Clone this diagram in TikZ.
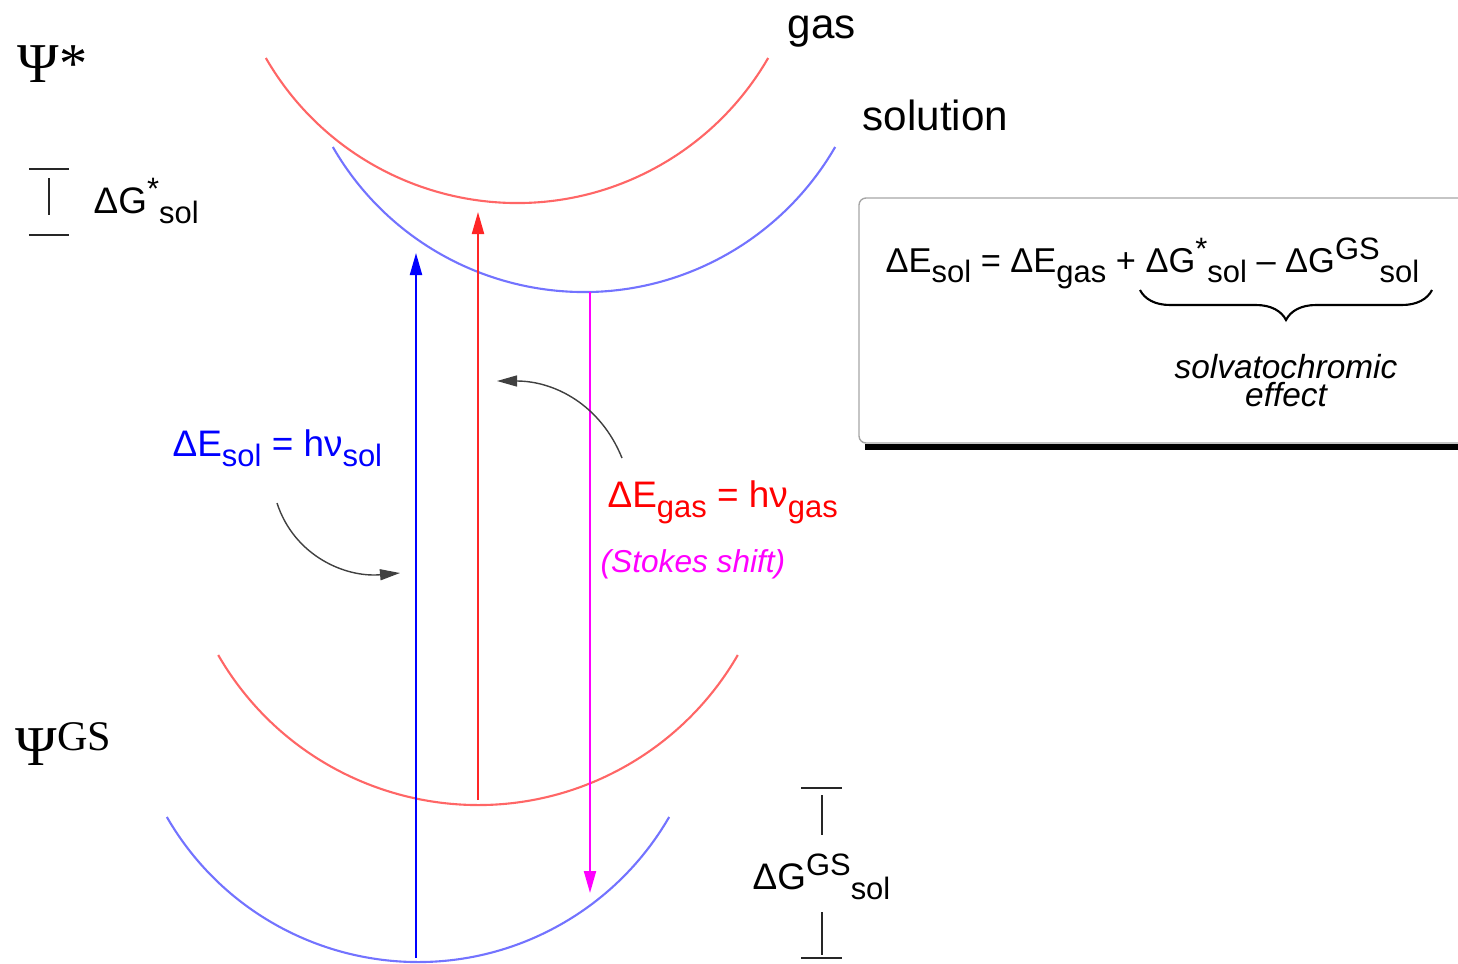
\documentclass[tikz,border=0pt]{standalone}
\usepackage{fontspec}
\setmainfont{Liberation Sans}
\newfontfamily\psifont{Liberation Serif}
\usetikzlibrary{arrows.meta,decorations.pathreplacing}
\definecolor{pinkline}{RGB}{255,0,255}
\newcommand{\sbt}[1]{\raisebox{-0.55ex}{\fontsize{8.8}{10}\selectfont #1}}
\newcommand{\spt}[1]{\raisebox{0.7ex}{\fontsize{8.8}{10}\selectfont #1}}

\begin{document}
\begin{tikzpicture}[
  x=1cm,y=1cm,
  gascurve/.style={red!60,semithick},
  solcurve/.style={blue!55,semithick},
  trans/.style={-{Triangle[length=2.2mm,width=1.2mm]},semithick},
  hint/.style={-{Triangle[length=2mm,width=1.1mm]},black!75,thin},
  bar/.style={black!85,semithick},
  term/.style={font=\fontsize{10.5}{12}\selectfont,anchor=base west,inner sep=0pt},
  phase/.style={font=\fontsize{12}{14}\selectfont,anchor=base west,inner sep=0pt},
  psi/.style={font=\psifont\fontsize{16}{18}\selectfont,anchor=base west,inner sep=0pt}
]
\useasboundingbox (0,0) rectangle (14.58,9.63);

% potential wells
\draw[gascurve] (5.17,10.50) ++(210:2.9) arc[start angle=210,end angle=330,radius=2.9];
\draw[solcurve] (5.84,9.61) ++(210:2.9) arc[start angle=210,end angle=330,radius=2.9];
\draw[gascurve] (4.78,4.58) ++(210:3.0) arc[start angle=210,end angle=330,radius=3.0];
\draw[solcurve] (4.18,2.91) ++(210:2.9) arc[start angle=210,end angle=330,radius=2.9];

\node[phase] (gas) at (7.87,9.24) {gas};
\node[phase] (sol) at (8.62,8.33) {solution};
\node[psi] (psiex) at (0.17,8.81) {Ψ*};
\node[psi] (psigs) at (0.15,1.98) {Ψ\raisebox{0.55ex}{\fontsize{12}{14}\selectfont GS}};

% vertical transitions
\coordinate (gsS) at (4.16,0.05);
\coordinate (exS) at (4.16,7.10);
\coordinate (gsG) at (4.78,1.63);
\coordinate (exG) at (4.78,7.51);
\coordinate (exM) at (5.90,6.71);
\coordinate (gsM) at (5.90,0.70);
\draw[trans,blue] (gsS) -- (exS);
\draw[trans,red!85] (gsG) -- (exG);
\draw[trans,pinkline] (exM) -- (gsM);

\node[term,blue] (esol) at (1.72,5.07) {ΔE\sbt{sol} = hν\sbt{sol}};
\node[term,red] (egas) at (6.07,4.56) {ΔE\sbt{gas} = hν\sbt{gas}};
\node[term,pinkline,font=\fontsize{9}{11}\selectfont\itshape] (stokes) at (6.00,3.91) {(Stokes shift)};

\coordinate (h1a) at (6.22,5.05);
\coordinate (h1b) at (4.97,5.82);
\coordinate (h2a) at (2.77,4.60);
\coordinate (h2b) at (4.00,3.90);
\draw[hint] (h1a) to[out=112,in=0] (h1b);
\draw[hint] (h2a) to[out=-72,in=185] (h2b);

% solvation energies
\coordinate (st1) at (0.29,7.94);
\coordinate (st2) at (0.69,7.94);
\coordinate (sb1) at (0.29,7.28);
\coordinate (sb2) at (0.69,7.28);
\draw[bar] (st1) -- (st2);
\draw[bar] (sb1) -- (sb2);
\draw[bar] (0.49,7.85) -- (0.49,7.48);
\node[term] (gex) at (0.93,7.50) {ΔG\spt{*}\sbt{sol}};

\coordinate (gt1) at (8.01,1.75);
\coordinate (gt2) at (8.42,1.75);
\coordinate (gb1) at (8.01,0.05);
\coordinate (gb2) at (8.42,0.05);
\draw[bar] (gt1) -- (gt2);
\draw[bar] (gb1) -- (gb2);
\draw[bar] (8.22,1.68) -- (8.22,1.28);
\draw[bar] (8.22,0.51) -- (8.22,0.08);
\node[term] (ggs) at (7.52,0.74) {ΔG\spt{GS}\sbt{sol}};

% summary box
\draw[gray!70,rounded corners=2pt] (14.58,7.65) -- (8.59,7.65) -- (8.59,5.20) -- (14.58,5.20);
\draw[line width=1.6pt] (8.65,5.16) -- (14.58,5.16);
\node[term,font=\fontsize{9.8}{12}\selectfont] (eq) at (8.85,6.91) {ΔE\sbt{sol} = ΔE\sbt{gas} + ΔG\spt{*}\sbt{sol} – ΔG\spt{GS}\sbt{sol}};
\coordinate (brL) at (11.40,6.73);
\coordinate (brR) at (14.32,6.73);
\draw[decorate,decoration={brace,amplitude=0.3cm,mirror},semithick] (brL) -- (brR);
\node[font=\fontsize{9.5}{8}\selectfont\itshape,align=center,inner sep=0pt] (solv) at (12.86,5.82) {solvatochromic\\effect};
\end{tikzpicture}
\end{document}
